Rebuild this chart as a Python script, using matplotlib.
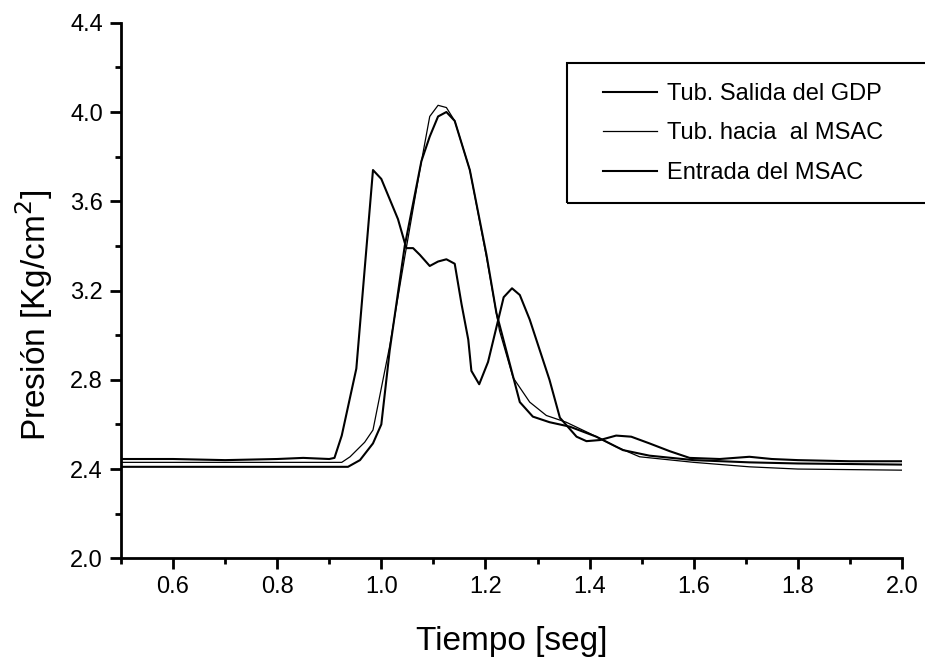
import matplotlib
matplotlib.use("Agg")
import matplotlib.pyplot as plt
from matplotlib.patches import Rectangle
from matplotlib.ticker import MultipleLocator

plt.rcParams["font.family"] = ["Liberation Sans", "DejaVu Sans"]

# Tub. Salida del GDP
t_gdp = [0.50, 0.60, 0.70, 0.80, 0.85, 0.90, 0.91, 0.924, 0.952, 0.984, 1.000,
         1.032, 1.048, 1.061, 1.074, 1.093, 1.109, 1.125, 1.141, 1.154, 1.167,
         1.173, 1.188, 1.205, 1.235, 1.251, 1.266, 1.285, 1.323, 1.343, 1.375,
         1.394, 1.420, 1.451, 1.480, 1.515, 1.554, 1.592, 1.65, 1.707, 1.75,
         1.80, 1.90, 2.00]
p_gdp = [2.445, 2.445, 2.44, 2.445, 2.45, 2.445, 2.45, 2.55, 2.85, 3.74, 3.70,
         3.52, 3.39, 3.39, 3.36, 3.31, 3.33, 3.34, 3.32, 3.14, 2.98,
         2.84, 2.78, 2.88, 3.17, 3.21, 3.18, 3.07, 2.80, 2.63, 2.545,
         2.525, 2.53, 2.55, 2.545, 2.515, 2.48, 2.45, 2.445, 2.455, 2.445,
         2.44, 2.435, 2.435]

# Tub. hacia al MSAC
t_hacia = [0.50, 0.70, 0.90, 0.924, 0.94, 0.968, 0.984, 1.016, 1.045, 1.074,
           1.093, 1.109, 1.125, 1.141, 1.17, 1.202, 1.227, 1.253, 1.285, 1.317,
           1.355, 1.40, 1.451, 1.496, 1.60, 1.707, 1.80, 2.00]
p_hacia = [2.43, 2.43, 2.43, 2.43, 2.455, 2.52, 2.575, 2.95, 3.35, 3.74,
           3.98, 4.03, 4.02, 3.96, 3.74, 3.35, 3.02, 2.81, 2.70, 2.64,
           2.61, 2.56, 2.50, 2.455, 2.43, 2.41, 2.40, 2.395]

# Entrada del MSAC
t_entrada = [0.50, 0.70, 0.90, 0.936, 0.959, 0.984, 1.000, 1.016, 1.045, 1.077,
             1.093, 1.109, 1.125, 1.141, 1.17, 1.202, 1.221, 1.266, 1.291, 1.323,
             1.362, 1.413, 1.464, 1.515, 1.60, 1.707, 1.80, 2.00]
p_entrada = [2.41, 2.41, 2.41, 2.41, 2.44, 2.515, 2.60, 2.93, 3.40, 3.78,
             3.89, 3.98, 4.00, 3.96, 3.74, 3.36, 3.10, 2.70, 2.635, 2.61,
             2.59, 2.545, 2.485, 2.46, 2.44, 2.43, 2.425, 2.42]

W, H = 925, 663
fig = plt.figure(figsize=(W / 100, H / 100), dpi=100)
ax = fig.add_axes([0.1308, 0.1579, 0.8443, 0.8078])

ax.plot(t_gdp, p_gdp, color="black", lw=1.5, label="Tub. Salida del GDP")
ax.plot(t_hacia, p_hacia, color="black", lw=0.9, label="Tub. hacia  al MSAC")
ax.plot(t_entrada, p_entrada, color="black", lw=1.5, label="Entrada del MSAC")

ax.set_xlim(0.5, 2.0)
ax.set_ylim(2.0, 4.4)
ax.xaxis.set_major_locator(MultipleLocator(0.2))
ax.xaxis.set_minor_locator(MultipleLocator(0.1))
ax.yaxis.set_major_locator(MultipleLocator(0.4))
ax.yaxis.set_minor_locator(MultipleLocator(0.2))
ax.xaxis.set_major_formatter(plt.FuncFormatter(lambda v, p: "%.1f" % v))
ax.yaxis.set_major_formatter(plt.FuncFormatter(lambda v, p: "%.1f" % v))

ax.spines["top"].set_visible(False)
ax.spines["right"].set_visible(False)
ax.spines["left"].set_linewidth(2)
ax.spines["bottom"].set_linewidth(2)
ax.tick_params(which="major", length=8, width=2, labelsize=17, pad=5)
ax.tick_params(which="minor", length=4.5, width=2)

ax.set_xlabel("Tiempo [seg]", fontsize=24, labelpad=20)
ax.set_ylabel("Presión [Kg/cm$^2$]", fontsize=24)
ax.yaxis.set_label_coords(-0.085, 0.454)

# legend box runs past the right edge of the figure
frame = Rectangle((567 / W, 1 - 203 / H), 0.5, 140 / H, transform=fig.transFigure,
                  fill=False, edgecolor="black", lw=1.5, clip_on=False)
fig.add_artist(frame)
fig.legend(loc="upper left", bbox_to_anchor=(603 / W, 1 - 83 / H),
           fontsize=17, frameon=False, handlelength=2.3, handletextpad=0.4,
           labelspacing=0.74, borderpad=0, borderaxespad=0)

fig.savefig("out.png", dpi=100)
